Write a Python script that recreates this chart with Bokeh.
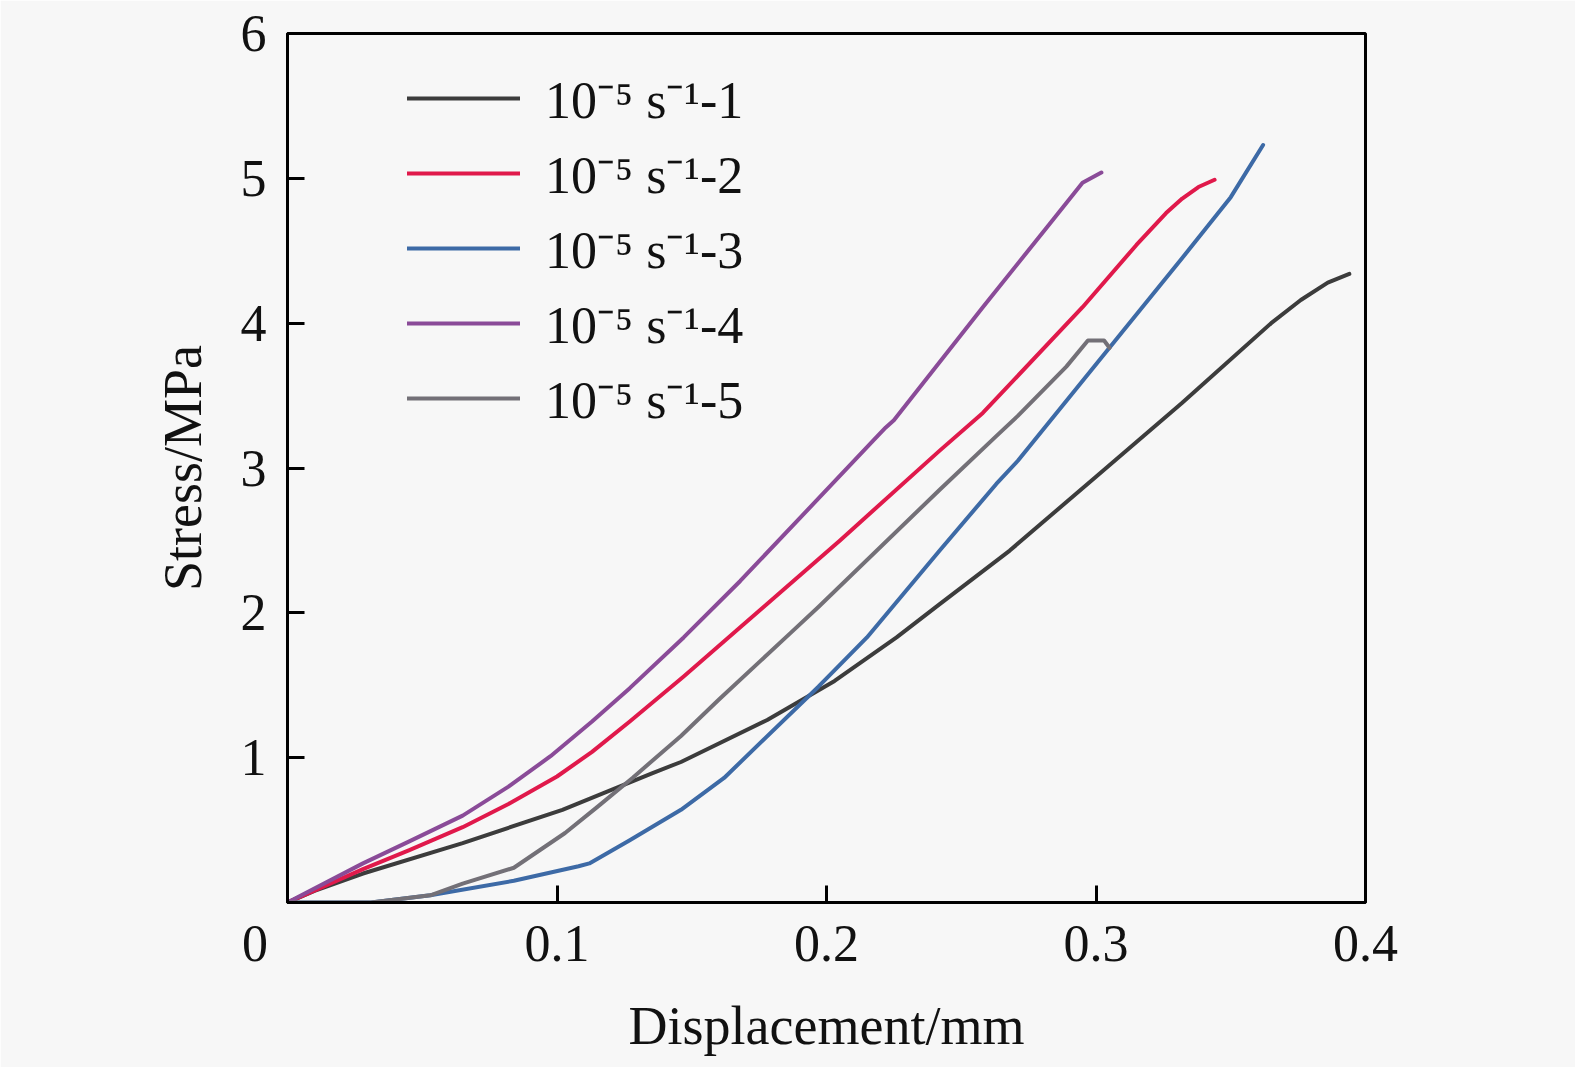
from bokeh.plotting import figure
from bokeh.models import FixedTicker, Legend, LegendItem
from bokeh.embed import file_html
from bokeh.resources import INLINE

# ---- data ----
labels = ["10\u207b\u2075 s\u207b\u00b9-1", "10\u207b\u2075 s\u207b\u00b9-2", "10\u207b\u2075 s\u207b\u00b9-3",
          "10\u207b\u2075 s\u207b\u00b9-4", "10\u207b\u2075 s\u207b\u00b9-5"]
colors = ["#3c3c3c", "#e0194b", "#3d6aa6", "#8a4b98", "#737077"]

x1 = [0, 0.01, 0.028, 0.065, 0.102, 0.135, 0.146, 0.178, 0.203, 0.226, 0.242, 0.268, 0.3, 0.332, 0.365, 0.376, 0.386, 0.394]
y1 = [0, 0.08, 0.20, 0.41, 0.64, 0.89, 0.97, 1.26, 1.53, 1.83, 2.06, 2.43, 2.94, 3.45, 4.00, 4.16, 4.28, 4.34]

x2 = [0, 0.028, 0.045, 0.065, 0.082, 0.1, 0.113, 0.127, 0.147, 0.168, 0.184, 0.205, 0.242, 0.258, 0.295, 0.315, 0.326, 0.332, 0.338, 0.344]
y2 = [0, 0.23, 0.36, 0.52, 0.68, 0.87, 1.04, 1.25, 1.56, 1.90, 2.16, 2.50, 3.12, 3.38, 4.11, 4.54, 4.76, 4.86, 4.94, 4.99]

x3 = [0, 0.031, 0.053, 0.084, 0.108, 0.112, 0.127, 0.146, 0.162, 0.197, 0.215, 0.242, 0.263, 0.271, 0.308, 0.332, 0.35, 0.362]
y3 = [0, 0.0, 0.05, 0.15, 0.25, 0.27, 0.43, 0.64, 0.86, 1.49, 1.83, 2.43, 2.89, 3.05, 3.90, 4.45, 4.87, 5.23]

x4 = [0, 0.028, 0.045, 0.065, 0.082, 0.0976, 0.113, 0.127, 0.147, 0.168, 0.2174, 0.222, 0.225, 0.258, 0.283, 0.295, 0.302]
y4 = [0, 0.27, 0.42, 0.60, 0.80, 1.01, 1.25, 1.48, 1.83, 2.22, 3.19, 3.28, 3.33, 4.11, 4.69, 4.97, 5.04]

x5 = [0, 0.031, 0.053, 0.065, 0.084, 0.103, 0.115, 0.128, 0.146, 0.16, 0.1866, 0.197, 0.242, 0.263, 0.271, 0.289, 0.297, 0.303, 0.305]
y5 = [0, 0.0, 0.05, 0.13, 0.24, 0.48, 0.66, 0.86, 1.15, 1.40, 1.86, 2.04, 2.85, 3.22, 3.36, 3.70, 3.88, 3.88, 3.83]

xs = [x1, x2, x3, x4, x5]
ys = [y1, y2, y3, y4, y5]

x_ticks = [0, 0.1, 0.2, 0.3, 0.4]
y_ticks = [0, 1, 2, 3, 4, 5, 6]

FONT = "Liberation Serif"
BG = "#f7f7f7"
NB = "\u00a0"

p = figure(width=1575, height=1067, x_range=(0, 0.4), y_range=(0, 6),
           output_backend="svg", toolbar_location=None,
           min_border_left=287, min_border_top=33, min_border_right=210, min_border_bottom=165,
           background_fill_color=BG, border_fill_color=BG)

p.xgrid.visible = False
p.ygrid.visible = False
p.outline_line_color = "black"
p.outline_line_width = 3

for ax in (p.xaxis[0], p.yaxis[0]):
    ax.axis_line_width = 3
    ax.major_tick_line_width = 3
    ax.major_tick_in = 17
    ax.major_tick_out = 0
    ax.minor_tick_line_color = None
    ax.major_label_text_font = FONT
    ax.major_label_text_font_size = "52px"
    ax.major_label_text_color = "#111111"
    ax.axis_label_text_font = FONT
    ax.axis_label_text_font_size = "54px"
    ax.axis_label_text_font_style = "normal"
    ax.axis_label_text_color = "#111111"

p.xaxis.ticker = FixedTicker(ticks=x_ticks)
p.yaxis.ticker = FixedTicker(ticks=y_ticks)
# origin label "0" sits left of the corner, as in the reference
p.xaxis.major_label_overrides = {0: "0" + NB * 5}
p.yaxis.major_label_overrides = {0: ""}
p.xaxis.axis_label = "Displacement/mm"
p.yaxis.axis_label = "Stress/MPa"
p.xaxis.major_label_standoff = 12
p.yaxis.major_label_standoff = 21
p.xaxis.axis_label_standoff = 21
p.yaxis.axis_label_standoff = 25

items = []
for xv, yv, c, lab in zip(xs, ys, colors, labels):
    r = p.line(xv, yv, line_color=c, line_width=4, line_join="round", line_cap="round")
    items.append(LegendItem(label=lab, renderers=[r]))

legend = Legend(items=items, location=(120, 469), glyph_width=113, glyph_height=20,
                label_standoff=25, spacing=4, padding=0, margin=0,
                border_line_alpha=0, background_fill_alpha=0,
                label_text_font=FONT, label_text_font_size="52px", label_text_color="#111111")
p.add_layout(legend)

open("out.html", "w").write(file_html(p, INLINE))
